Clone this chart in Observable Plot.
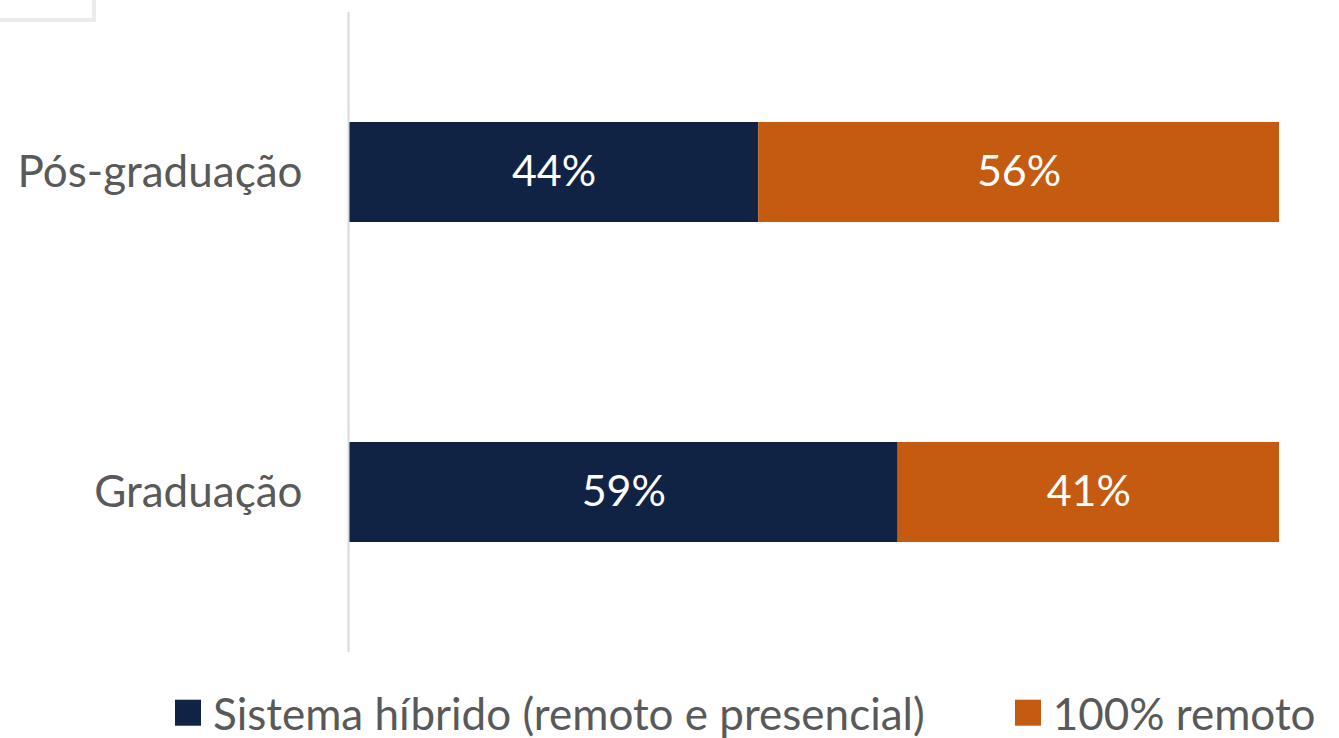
<!DOCTYPE html>
<html>
<head>
<meta charset="utf-8">
<script src="https://cdn.jsdelivr.net/npm/d3@7"></script>
<script src="https://cdn.jsdelivr.net/npm/@observablehq/plot@0.6"></script>
<style>
  html, body { margin: 0; padding: 0; background: #fff; }
  #wrap { position: relative; width: 1339px; height: 738px; overflow: hidden; font-family: Lato, "Open Sans", sans-serif; }
  #box { position: absolute; left: -4px; top: -4px; width: 92px; height: 18px; border: 4px solid #ebebeb; }
  #legend { position: absolute; left: 175px; top: 713px; transform: translateY(-50%); display: flex; align-items: center; color: #595959; font-size: 44px; white-space: nowrap; line-height: 1.15; }
  .sw { width: 26px; height: 26px; display: inline-block; margin-right: 12px; }
  .item { display: flex; align-items: center; }
</style>
</head>
<body>
<div id="wrap">
  <div id="chart"></div>
  <div id="box"></div>
  <div id="legend"></div>
</div>
<script>
const categories = ["Pós-graduação", "Graduação"];
const seriesNames = ["Sistema híbrido (remoto e presencial)", "100% remoto"];
const hibrido = [44, 59];
const remoto = [56, 41];
const colors = ["#112345", "#C55A11"];

const data = [];
categories.forEach((c, i) => {
  data.push({cat: c, serie: seriesNames[0], value: hibrido[i]});
  data.push({cat: c, serie: seriesNames[1], value: remoto[i]});
});

const chart = Plot.plot({
  width: 1339,
  height: 680,
  marginLeft: 349,
  marginRight: 60,
  marginTop: 12,
  marginBottom: 28,
  style: {fontFamily: "Lato, 'Open Sans', sans-serif", background: "#fff"},
  x: {domain: [0, 100], axis: null},
  y: {domain: categories, paddingInner: 0.6875, paddingOuter: 0.34375, align: 0.5, label: null},
  color: {domain: seriesNames, range: colors},
  marks: [
    Plot.barX(data, Plot.stackX({x: "value", y: "cat", fill: "serie", order: seriesNames})),
    Plot.text(data, Plot.stackX({x: "value", y: "cat", z: "serie", order: seriesNames, text: d => d.value + "%", fill: "white", fontSize: 43})),
    Plot.ruleX([0], {stroke: "#d9d9d9", strokeWidth: 2, dx: -1}),
    Plot.axisY({tickSize: 0, tickPadding: 47, fontSize: 44, color: "#595959", label: null})
  ]
});
document.getElementById("chart").appendChild(chart);

const legend = document.getElementById("legend");
seriesNames.forEach((s, i) => {
  const it = document.createElement("div");
  it.className = "item";
  if (i > 0) it.style.marginLeft = "90px";
  const sw = document.createElement("span");
  sw.className = "sw";
  sw.style.background = colors[i];
  const t = document.createElement("span");
  t.textContent = s;
  it.appendChild(sw); it.appendChild(t);
  legend.appendChild(it);
});
</script>
</body>
</html>
